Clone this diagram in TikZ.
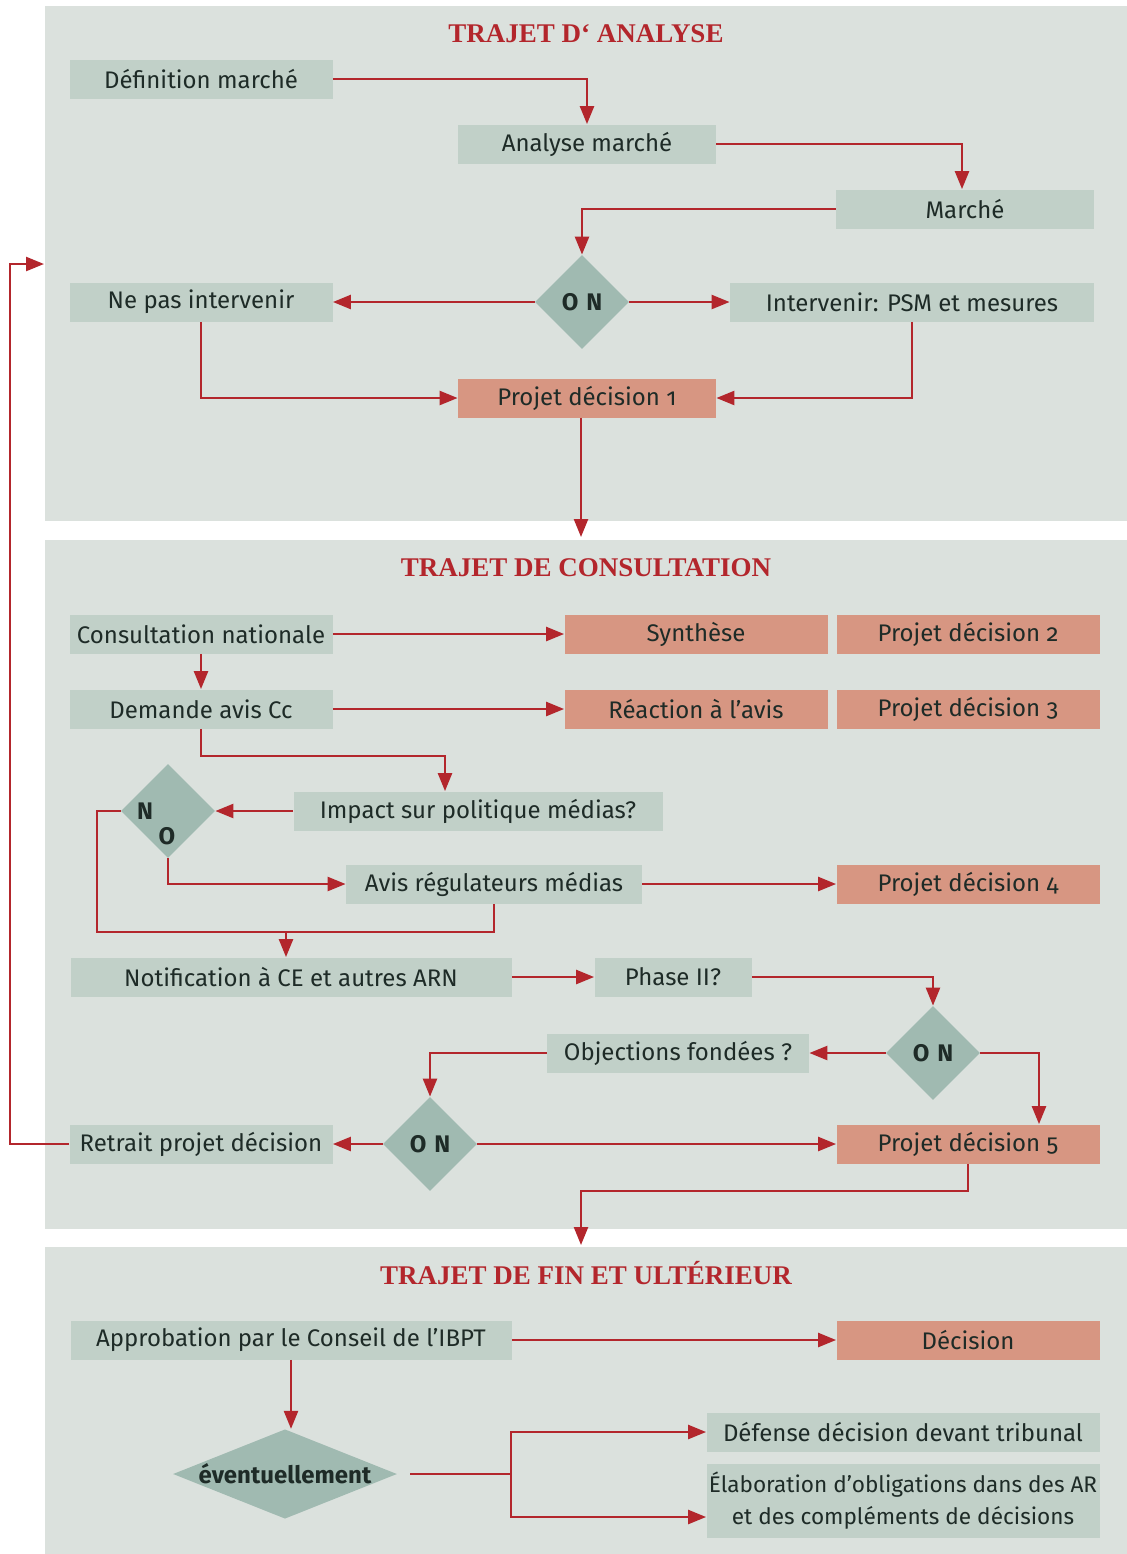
\documentclass[tikz,border=0pt]{standalone}
\usepackage{fontspec}
\setmainfont{Fira Sans}[Numbers=OldStyle]
\newfontfamily\titlefont{Liberation Serif}
\usetikzlibrary{shapes.geometric,arrows.meta}
\definecolor{panelgrey}{HTML}{DBE1DD}
\definecolor{boxgreen}{HTML}{C1D0C8}
\definecolor{salmon}{HTML}{D79682}
\definecolor{diagreen}{HTML}{A0BAB1}
\definecolor{linered}{HTML}{B3262C}
\definecolor{inkdark}{HTML}{1E2B27}
\tikzstyle{b}=[fill=boxgreen,text=inkdark,inner sep=0,minimum height=19.5pt,font=\fontsize{12}{16}\selectfont]
\tikzstyle{s}=[b,fill=salmon]
\tikzstyle{wd}=[minimum width=#1*0.5pt]
\tikzstyle{dia}=[diamond,aspect=1,fill=diagreen,text=inkdark,inner sep=0,minimum width=47pt,minimum height=47pt,font=\bfseries\fontsize{12}{14}\selectfont]
\tikzstyle{ttl}=[text=linered,font=\titlefont\bfseries\fontsize{13.5}{15}\selectfont]
\tikzstyle{a}=[draw=linered,line width=1.2pt,-{Triangle[length=9pt,width=7pt]}]
\tikzstyle{l}=[draw=linered,line width=1.2pt]

\begin{document}
\begin{tikzpicture}[x=0.5pt,y=-0.5pt]
  \fill[white] (0,0) rectangle (1127,1554);
  \fill[panelgrey] (45,6) rectangle (1127,521);
  \fill[panelgrey] (45,540) rectangle (1127,1229);
  \fill[panelgrey] (45,1247) rectangle (1127,1554);

  % trajet d'analyse
  \node[ttl] (t1) at (586,34) {TRAJET D‘ ANALYSE};
  \node[b, wd=263] (defm) at (201,79) {Définition marché};
  \node[b, wd=258] (anam) at (587,144) {Analyse marché};
  \node[b, wd=258] (marche) at (965,209) {Marché};
  \node[dia] (d1) at (582,302) {O\hspace{4pt}N};
  \node[b, wd=263] (nepas) at (201,302) {Ne pas intervenir};
  \node[b, wd=364] (interv) at (912,302) {Intervenir: PSM et mesures};
  \node[s, wd=258] (pd1) at (587,398) {Projet décision 1};
  \coordinate (p2in) at (581,537);
  \coordinate (p1in) at (44,264);
  \coordinate (fb) at (10,264);

  % trajet de consultation
  \node[ttl] (t2) at (586,568) {TRAJET DE CONSULTATION};
  \node[b, wd=263] (consult) at (201,634) {Consultation nationale};
  \node[s, wd=263] (synth) at (696,634) {Synthèse};
  \node[s, wd=263] (pd2) at (968,634) {Projet décision 2};
  \node[b, wd=263] (demande) at (201,709) {Demande avis Cc};
  \node[s, wd=263] (react) at (696,709) {Réaction à l’avis};
  \node[s, wd=263] (pd3) at (968,709) {Projet décision 3};
  \node[b, wd=369] (impact) at (478,811) {Impact sur politique médias?};
  \node[dia] (dno) at (168,811) {};
  \node[font=\bfseries\fontsize{12}{14}\selectfont, text=inkdark] (dnoN) at (145,811) {N};
  \node[font=\bfseries\fontsize{12}{14}\selectfont, text=inkdark] (dnoO) at (167,836) {O};
  \node[b, wd=296] (avis) at (494,884) {Avis régulateurs médias};
  \node[s, wd=263] (pd4) at (968,884) {Projet décision 4};
  \coordinate (loop) at (97,932);
  \node[b, wd=441] (notif) at (291,977) {Notification à CE et autres ARN};
  \node[b, wd=157] (phase) at (673,977) {Phase II?};
  \node[dia] (d2) at (933,1053) {O\hspace{4pt}N};
  \node[b, wd=262] (object) at (678,1053) {Objections fondées ?};
  \node[dia] (d3) at (430,1144) {O\hspace{4pt}N};
  \node[b, wd=263] (retrait) at (201,1144) {Retrait projet décision};
  \node[s, wd=263] (pd5) at (968,1144) {Projet décision 5};
  \coordinate (p3in) at (581,1245);

  % trajet de fin et ulterieur
  \node[ttl] (t3) at (586,1273) {TRAJET DE FIN ET ULTÉRIEUR};
  \node[b, wd=441] (approb) at (291,1340) {Approbation par le Conseil de l’IBPT};
  \node[s, wd=263] (decision) at (968,1340) {Décision};
  \node[dia, aspect=2.5, minimum width=112pt, minimum height=44pt] (d4) at (285,1474) {éventuellement};
  \coordinate (split) at (511,1474);
  \node[b, wd=393] (defense) at (903,1432) {Défense décision devant tribunal};
  \node[b, wd=393, minimum height=37pt, align=center, font=\fontsize{11.3}{16}\selectfont] (elab) at (903,1501) {Élaboration d’obligations dans des AR\\et des compléments de décisions};

  \draw[a] (defm.east) -| (anam.north);
  \draw[a] (anam.east) -| ([xshift=-1.5pt]marche.north);
  \draw[a] (marche.west) -| (d1.north);
  \draw[a] (d1.west) -- (nepas.east);
  \draw[a] (d1.east) -- (interv.west);
  \draw[a] (nepas.south) |- (pd1.west);
  \draw[a] (interv.south) |- (pd1.east);
  \draw[a] ([xshift=-3pt]pd1.south) -- ([xshift=-3pt]pd1.south |- p2in);
  \draw[a] (retrait.west) -| (fb) -- (p1in);

  \draw[a] (consult.east) -- (synth.west);
  \draw[a] (consult.south) -- (demande.north);
  \draw[a] (demande.east) -- (react.west);
  \draw[a] (demande.south) -- ++(0,27) -| ([xshift=-16.5pt]impact.north);
  \draw[a] (impact.west) -- (dno.east);
  \draw[a] (dno.south) |- (avis.west);
  \draw[l] (dno.west) -| (loop) -| (avis.south);
  \draw[a] ([xshift=-2.5pt]notif.north |- loop) -- ([xshift=-2.5pt]notif.north);
  \draw[a] (avis.east) -- (pd4.west);
  \draw[a] (notif.east) -- (phase.west);
  \draw[a] (phase.east) -| (d2.north);
  \draw[a] (d2.west) -- (object.east);
  \draw[a] (d2.east) -| ([xshift=35.5pt]pd5.north);
  \draw[a] (object.west) -| (d3.north);
  \draw[a] (d3.west) -- (retrait.east);
  \draw[a] (d3.east) -- (pd5.west);
  \draw[a] (pd5.south) -- ++(0,27) -| (p3in);

  \draw[a] (approb.east) -- (decision.west);
  \draw[a] (approb.south) -- (approb.south |- d4.north);
  \draw[l] ([xshift=6.5pt]d4.east) -- (split);
  \draw[a] (split) |- (defense.west);
  \draw[a] (split) |- ([yshift=-8pt]elab.west);
\end{tikzpicture}
\end{document}
